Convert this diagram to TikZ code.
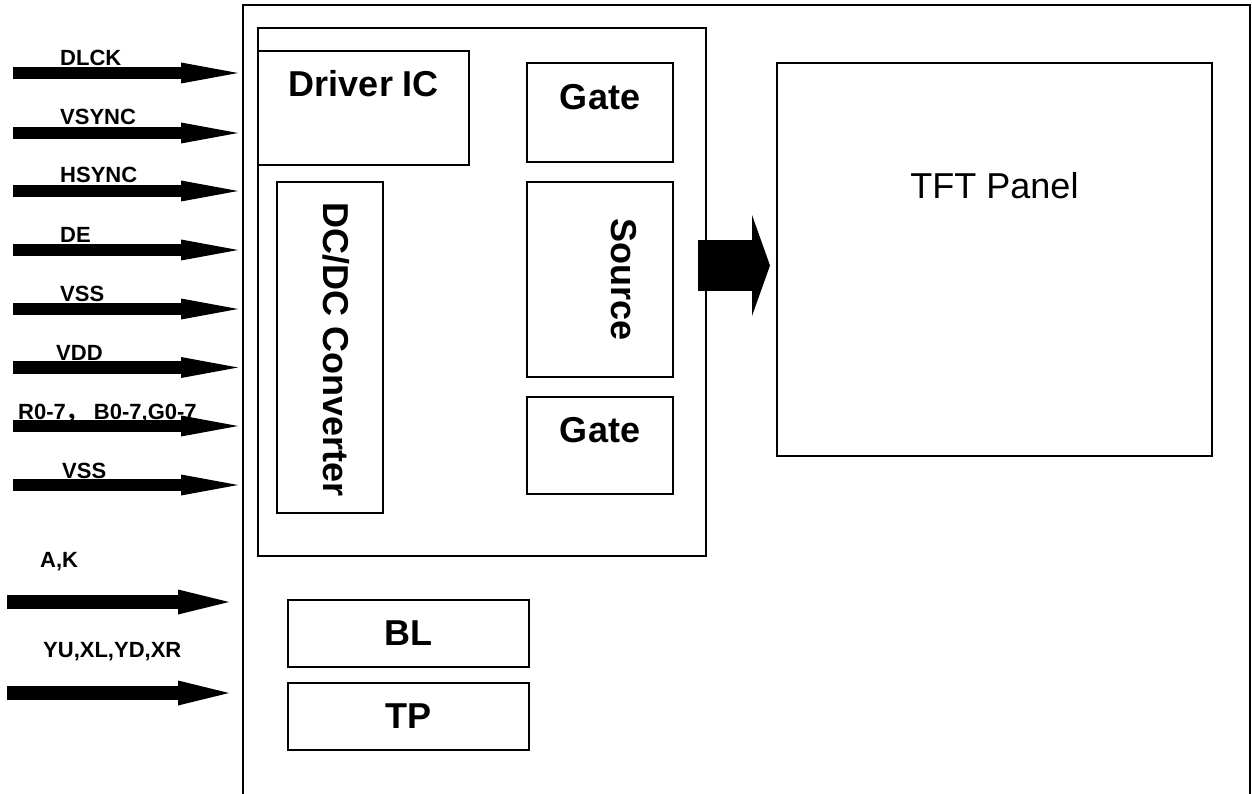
\documentclass[tikz,border=0pt]{standalone}
\usepackage{fontspec}
\setmainfont{Liberation Sans}
\newfontfamily\cjk{Noto Sans CJK SC}
\usetikzlibrary{arrows.meta,positioning}

\begin{document}
\begin{tikzpicture}[x=1pt,y=-1pt,
  blk/.style={draw,line width=1.4pt,inner sep=0pt,font=\fontsize{36}{40}\selectfont\bfseries},
  ttl/.style={font=\fontsize{36}{40}\selectfont\bfseries,inner sep=0pt},
  sig/.style={font=\fontsize{22}{24}\selectfont\bfseries,inner sep=0pt,anchor=base west},
  sigarr/.style={line width=12.7pt,-{Triangle[length=57pt,width=21pt,line width=0pt]}},
  auxarr/.style={line width=14pt,-{Triangle[length=51pt,width=25pt,line width=0pt]}},
  busarr/.style={line width=51pt,-{Triangle[length=18pt,width=101pt,line width=0pt]}}]

  \useasboundingbox (0,0) rectangle (1252,794);

  % module outline (open at the bottom)
  \draw[line width=1.4pt] (243,794) -- (243,5) -- (1250,5) -- (1250,794);

  % driver group
  \node[blk,minimum width=448pt,minimum height=528pt] (ic) at (482,292) {};
  \node[blk,minimum width=211pt,minimum height=114pt] (drv) at (363.5,108) {};
  \node[blk,minimum width=146pt,minimum height=99pt]  (gate1) at (600,112.5) {};
  \node[blk,minimum width=146pt,minimum height=195pt] (src) at (600,279.5) {};
  \node[blk,minimum width=146pt,minimum height=97pt]  (gate2) at (600,445.5) {};
  \node[blk,minimum width=106pt,minimum height=331pt] (dcdc) at (330,347.5) {};

  \node[ttl] (drvT) at (364,83.5) {Driver IC};
  \node[ttl] (gate1T) at (600,97) {Gate};
  \node[ttl,rotate=-90] (srcT) at (623.5,279.5) {Source};
  \node[ttl] (gate2T) at (600,430) {Gate};
  \node[ttl,rotate=-90] (dcdcT) at (336,350) {DC/DC Converter};

  % panel
  \node[blk,minimum width=435pt,minimum height=393pt] (tft) at (994.5,259.5) {};
  \node[inner sep=0pt,font=\fontsize{36}{40}\selectfont] (tftT) at (994.5,186) {TFT Panel};

  \coordinate (busA) at (698,265.5);
  \coordinate (busB) at (770,265.5);
  \draw[busarr] (busA) -- (busB);

  % backlight / touch panel
  \node[blk,minimum width=241pt,minimum height=67pt] (bl) at (408.5,633.5) {BL};
  \node[blk,minimum width=241pt,minimum height=67pt] (tp) at (408.5,716.5) {TP};

  % input signals
  \coordinate (dlckA) at (13,73);    \coordinate (dlckB) at (238,73);
  \coordinate (vsyncA) at (13,133);  \coordinate (vsyncB) at (238,133);
  \coordinate (hsyncA) at (13,191);  \coordinate (hsyncB) at (238,191);
  \coordinate (deA) at (13,250);     \coordinate (deB) at (238,250);
  \coordinate (vssA) at (13,309);    \coordinate (vssB) at (238,309);
  \coordinate (vddA) at (13,367.5);  \coordinate (vddB) at (238,367.5);
  \coordinate (rgbA) at (13,426);    \coordinate (rgbB) at (238,426);
  \coordinate (gndA) at (13,485);    \coordinate (gndB) at (238,485);
  \coordinate (akA) at (7,602);      \coordinate (akB) at (229,602);
  \coordinate (tpA) at (7,693);      \coordinate (tpB) at (229,693);

  \draw[sigarr] (dlckA) -- (dlckB);
  \draw[sigarr] (vsyncA) -- (vsyncB);
  \draw[sigarr] (hsyncA) -- (hsyncB);
  \draw[sigarr] (deA) -- (deB);
  \draw[sigarr] (vssA) -- (vssB);
  \draw[sigarr] (vddA) -- (vddB);
  \draw[sigarr] (rgbA) -- (rgbB);
  \draw[sigarr] (gndA) -- (gndB);
  \draw[auxarr] (akA) -- (akB);
  \draw[auxarr] (tpA) -- (tpB);

  \node[sig] (dlckL) at (60,66) {DLCK};
  \node[sig] (vsyncL) at (60,125) {VSYNC};
  \node[sig] (hsyncL) at (60,183) {HSYNC};
  \node[sig] (deL) at (60,243) {DE};
  \node[sig] (vssL) at (60,301) {VSS};
  \node[sig] (vddL) at (56,360) {VDD};
  \node[sig] (rgbL) at (18,419) {R0-7{\cjk ，} B0-7,G0-7};
  \node[sig] (gndL) at (62,478) {VSS};
  \node[sig] (akL) at (40,567) {A,K};
  \node[sig] (tpL) at (43,657) {YU,XL,YD,XR};
\end{tikzpicture}
\end{document}
